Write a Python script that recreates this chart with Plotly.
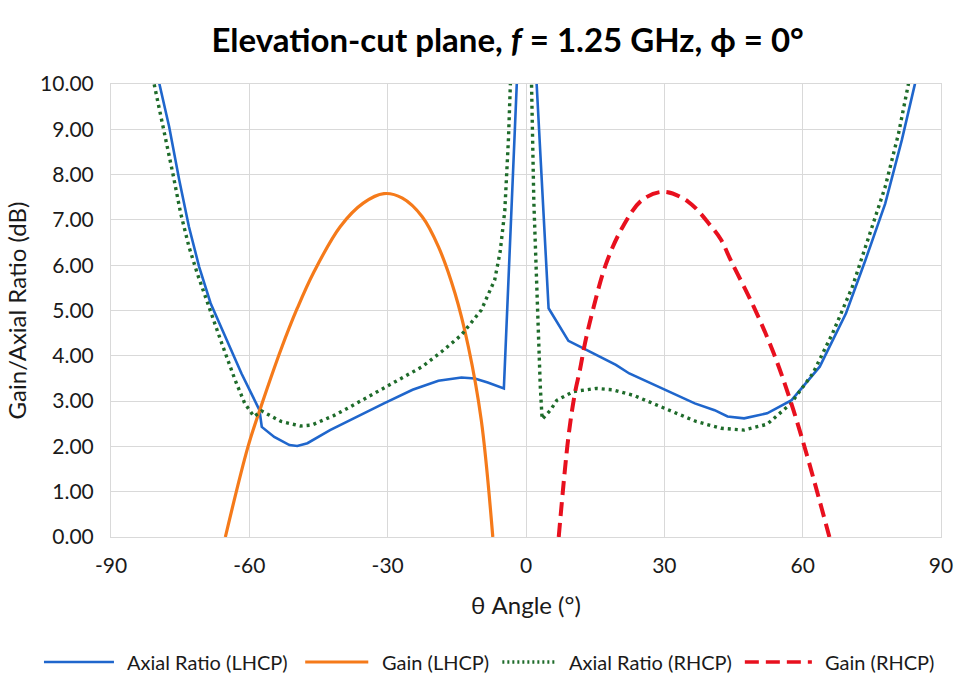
import plotly.graph_objects as go

# ---------------- data ----------------
ar_lhcp_theta = [-81, -79.5, -77.4, -75.2, -73.1, -70.9, -68.4, -65.2, -61.7, -57.8, -57.3,
                 -54.6, -51.3, -49.6, -47.4, -42.5, -35.3, -30.8, -24.6, -19.0, -14.0, -11.1,
                 -8.3, -4.8, -1.0, 1.0, 4.9, 9.2, 13.1, 19.5, 22.4, 29.5, 36.6, 40.9, 43.7,
                 47.3, 52.3, 57.6, 63.7, 69.4, 73.6, 77.9, 81.5, 84.3, 86.0]
ar_lhcp = [10.8, 10.0, 9.06, 7.88, 6.85, 5.97, 5.16, 4.42, 3.61, 2.80, 2.43,
           2.21, 2.03, 2.01, 2.07, 2.36, 2.73, 2.95, 3.25, 3.45, 3.52, 3.50,
           3.41, 3.28, 12.4, 12.5, 5.05, 4.33, 4.13, 3.80, 3.61, 3.28, 2.95, 2.80, 2.66,
           2.62, 2.73, 3.02, 3.76, 4.94, 6.11, 7.36, 8.76, 9.98, 10.8]

gain_lhcp_theta = [-65.2, -60.3, -57.4, -53.1, -49.6, -46.0, -40.3, -35.3, -30.8, -26.8,
                   -22.5, -19.0, -15.4, -12.5, -9.7, -7.2]
gain_lhcp = [0.0, 1.99, 2.90, 4.15, 5.05, 5.85, 6.85, 7.37, 7.58, 7.48,
             7.07, 6.41, 5.38, 4.20, 2.58, 0.0]

ar_rhcp_theta = [-82.5, -80.6, -78.8, -76.6, -74.9, -73.1, -71.3, -68.8, -66.0, -63.1, -61.0,
                 -59.0, -57.3, -53.1, -48.9, -46.5, -41.7, -38.9, -30.8, -22.5, -18.2, -14.0,
                 -9.7, -6.8, -5.6, -4.6, -3.8, -3.3, -2.6, 0.6, 1.2, 1.7, 2.4, 3.1, 3.5, 5.3,
                 6.7, 8.8, 10.3, 15.2, 18.8, 23.5, 29.8, 36.9, 42.3, 47.3, 52.3, 57.3, 62.2,
                 66.5, 70.8, 74.4, 77.9, 80.8, 82.9, 84.5]
ar_rhcp = [10.9, 10.0, 9.06, 8.03, 7.15, 6.41, 5.82, 5.08, 4.28, 3.47, 2.95,
           2.66, 2.78, 2.55, 2.45, 2.47, 2.68, 2.83, 3.30, 3.76, 4.10, 4.46,
           5.01, 5.67, 6.30, 7.20, 8.80, 10.0, 12.3, 12.0, 10.0, 7.40, 5.16, 3.32, 2.60, 2.80,
           3.02, 3.13, 3.21, 3.28, 3.25, 3.12, 2.86, 2.55, 2.40, 2.36, 2.49, 2.93, 3.61,
           4.50, 5.53, 6.63, 7.73, 8.91, 9.94, 10.8]

gain_rhcp_theta = [7.1, 9.2, 10.6, 11.7, 12.8, 14.5, 17.4, 21.0, 25.2, 29.9, 35.2, 40.2,
                   42.3, 44.4, 49.4, 53.7, 57.3, 60.8, 65.8]
gain_rhcp = [0.0, 2.21, 3.17, 3.69, 4.28, 5.01, 6.04, 6.85, 7.44, 7.62, 7.40, 6.85,
             6.56, 6.11, 5.08, 4.06, 3.02, 1.85, 0.0]

x_ticks = [-90, -60, -30, 0, 30, 60, 90]
y_ticks = [0, 1, 2, 3, 4, 5, 6, 7, 8, 9, 10]

series_names = ["Axial Ratio (LHCP)", "Gain (LHCP)", "Axial Ratio (RHCP)", "Gain (RHCP)"]

# ---------------- styles ----------------
BLUE = "#1F66CC"
ORANGE = "#F57A1A"
GREEN = "#1E6B2A"
RED = "#E8101E"
GRID = "#D9D9D9"
FONT = "Lato, 'Open Sans', sans-serif"
TXT = "#1a1a1a"

styles = [
    dict(color=BLUE, width=2.6, dash="solid"),
    dict(color=ORANGE, width=3.2, dash="solid"),
    dict(color=GREEN, width=3.4, dash="3px,4px"),
    dict(color=RED, width=4.0, dash="14px,7px"),
]
shapes_line = ["linear", "spline", "linear", "spline"]

fig = go.Figure()
data = [(ar_lhcp_theta, ar_lhcp), (gain_lhcp_theta, gain_lhcp),
        (ar_rhcp_theta, ar_rhcp), (gain_rhcp_theta, gain_rhcp)]
for (xs, ys), name, st, shp in zip(data, series_names, styles, shapes_line):
    line = dict(st)
    line["shape"] = shp
    if shp == "spline":
        line["smoothing"] = 1.0
    fig.add_trace(go.Scatter(x=xs, y=ys, mode="lines", name=name, line=line,
                             showlegend=False))

# ---------------- manual legend (layout, paper coords) ----------------
W, H = 965, 684
L, R, T, B = 111, 12, 84, 147
pw, ph = W - L - R, H - T - B


def px2paper_x(px):
    return (px - L) / pw


def px2paper_y(py):
    return (H - B - py) / ph


leg_y = 662
leg_items = [(43, 114, 125), (308, 372, 384), (508, 563, 574), (754, 822, 833)]
shapes = []
annotations = []
for (x0, x1, tx), name, st in zip(leg_items, series_names, styles):
    lw = st["width"]
    shapes.append(dict(type="line", xref="paper", yref="paper",
                       x0=px2paper_x(x0), x1=px2paper_x(x1),
                       y0=px2paper_y(leg_y), y1=px2paper_y(leg_y),
                       line=dict(color=st["color"], width=min(lw, 3.4),
                                 dash=st["dash"] if st["dash"] != "3px,4px" else "2px,3px")))
    annotations.append(dict(text=name, xref="paper", yref="paper",
                            x=px2paper_x(tx), y=px2paper_y(leg_y),
                            xanchor="left", yanchor="middle", showarrow=False,
                            font=dict(family=FONT, size=20, color=TXT)))

fig.update_layout(
    width=W, height=H,
    margin=dict(l=L, r=R, t=T, b=B),
    paper_bgcolor="white", plot_bgcolor="white",
    title=dict(text="Elevation-cut plane, <i>f</i> = 1.25 GHz, ϕ = 0°",
               x=0.526, xanchor="center", y=1 - 40 / H, yanchor="middle",
               font=dict(family=FONT, size=33, color="black", weight="bold")),
    font=dict(family=FONT, color=TXT),
    shapes=shapes,
    annotations=annotations,
    showlegend=False,
)

fig.update_xaxes(range=[-90, 90], tickvals=x_ticks, ticktext=[str(v) for v in x_ticks],
                 showgrid=True, gridcolor=GRID, gridwidth=1, zeroline=False,
                 showline=True, linecolor=GRID, mirror=True,
                 tickfont=dict(family=FONT, size=21, color=TXT), ticklabelstandoff=10,
                 ticklabeloverflow="allow",
                 title=dict(text="θ Angle (°)", font=dict(family=FONT, size=24, color=TXT),
                            standoff=20))
fig.update_yaxes(range=[0, 10], tickvals=y_ticks, tickformat=".2f",
                 showgrid=True, gridcolor=GRID, gridwidth=1, zeroline=False,
                 showline=True, linecolor=GRID, mirror=True,
                 tickfont=dict(family=FONT, size=21, color=TXT), ticklabelstandoff=12,
                 title=dict(text="Gain/Axial Ratio (dB)", font=dict(family=FONT, size=24, color=TXT),
                            standoff=6))

fig.write_html("out.html")
